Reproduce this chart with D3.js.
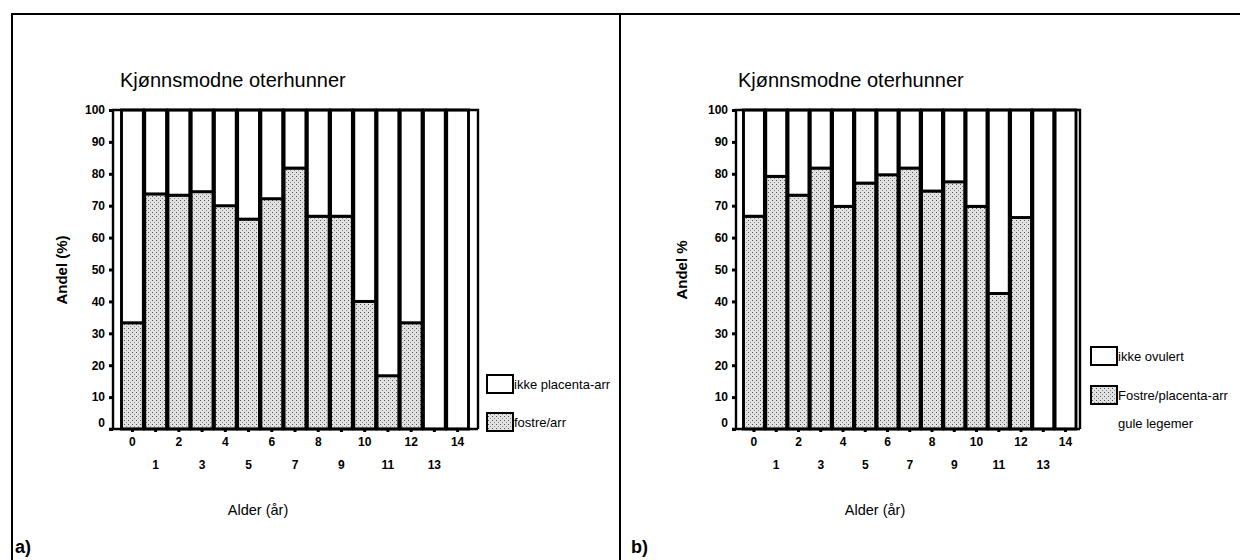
<!DOCTYPE html>
<html>
<head>
<meta charset="utf-8">
<script src="https://cdn.jsdelivr.net/npm/d3@7"></script>
<style>
body { margin: 0; background: #fff; }
svg { display: block; font-family: "Liberation Sans", Arial, sans-serif; }
</style>
</head>
<body>
<svg id="chart" width="1240" height="560"></svg>
<script>
var ages = [0, 1, 2, 3, 4, 5, 6, 7, 8, 9, 10, 11, 12, 13, 14];
var yTicks = [0, 10, 20, 30, 40, 50, 60, 70, 80, 90, 100];

// panel a: fostre/arr vs ikke placenta-arr
var fostreA = [33.3, 73.7, 73.3, 74.4, 70, 65.8, 72.2, 81.8, 66.7, 66.7, 40, 16.7, 33.3, 0, 0];
var ikkeA = [66.7, 26.3, 26.7, 25.6, 30, 34.2, 27.8, 18.2, 33.3, 33.3, 60, 83.3, 66.7, 100, 100];

// panel b: fostre/placenta-arr + gule legemer vs ikke ovulert
var fostreB = [66.7, 79.2, 73.3, 81.8, 69.8, 77.1, 79.7, 81.8, 74.6, 77.5, 69.8, 42.5, 66.3, 0, 0];
var ikkeB = [33.3, 20.8, 26.7, 18.2, 30.2, 22.9, 20.3, 18.2, 25.4, 22.5, 30.2, 57.5, 33.7, 100, 100];

var svg = d3.select('#chart');

// stipple fill like the scanned dot screen
var pat = svg.append('defs').append('pattern')
  .attr('id', 'stip')
  .attr('width', 4).attr('height', 4)
  .attr('patternUnits', 'userSpaceOnUse');
pat.append('rect').attr('width', 4).attr('height', 4).attr('fill', '#e2e2e2');
pat.append('rect').attr('x', 0).attr('y', 0).attr('width', 1).attr('height', 1).attr('fill', '#505050');
pat.append('rect').attr('x', 2).attr('y', 2).attr('width', 1).attr('height', 1).attr('fill', '#8a8a8a');

// outer frame + divider
svg.append('path')
  .attr('d', 'M12,560V14H1240M620,14V560')
  .attr('fill', 'none')
  .attr('stroke', '#000')
  .attr('stroke-width', 2);

var y = d3.scaleLinear().domain([0, 100]).range([429, 110]);

function panel(p) {
  var g = svg.append('g');
  var x = d3.scaleBand().domain(ages).range([p.b0, p.b1]).paddingInner(0.06);

  var rows = ages.map(function(a, i) { return { age: a, low: p.low[i], high: p.high[i] }; });
  var series = d3.stack().keys(['low', 'high'])(rows);

  g.selectAll('g.s')
    .data(series)
    .enter()
    .append('g')
    .attr('fill', function(d, i) { return i === 0 ? 'url(#stip)' : '#fff'; })
    .selectAll('rect')
    .data(function(d) { return d; })
    .enter()
    .append('rect')
    .attr('x', function(d) { return x(d.data.age); })
    .attr('width', x.bandwidth())
    .attr('y', function(d) { return y(d[1]); })
    .attr('height', function(d) { return y(d[0]) - y(d[1]); })
    .attr('stroke', '#000')
    .attr('stroke-width', 2.9);

  // plot box
  g.append('path')
    .attr('d', 'M' + p.x0 + ',' + y(0) + 'V' + y(100) + 'H' + p.x1 + 'V' + y(0) + 'M' + (p.x0 - 4) + ',' + y(0) + 'H' + p.x1)
    .attr('fill', 'none')
    .attr('stroke', '#000')
    .attr('stroke-width', 2.4);

  var ya = g.append('g')
    .attr('transform', 'translate(' + p.x0 + ',0)')
    .call(d3.axisLeft(y).tickValues(yTicks).tickSize(4).tickPadding(4));
  ya.select('.domain').remove();
  ya.selectAll('line').attr('stroke-width', 3);
  ya.selectAll('text').attr('font-size', 12).attr('font-weight', 'bold').attr('font-family', null)
    .attr('dy', function(d) { return d === 0 ? '-0.25em' : '0.32em'; });

  var xa = g.append('g')
    .attr('transform', 'translate(0,' + y(0) + ')')
    .call(d3.axisBottom(x).tickSize(3).tickPadding(6));
  xa.select('.domain').remove();
  xa.selectAll('line').attr('stroke-width', 3);
  xa.selectAll('text')
    .attr('font-size', 12)
    .attr('font-weight', 'bold')
    .attr('font-family', null)
    .attr('y', function(d) { return d % 2 === 0 ? 8 : 31; });

  g.append('text')
    .attr('x', p.titleX).attr('y', 87)
    .attr('font-size', 20)
    .text('Kjønnsmodne oterhunner');

  g.append('text')
    .attr('transform', 'translate(' + p.ylabX + ',270) rotate(-90)')
    .attr('text-anchor', 'middle')
    .attr('font-size', 15)
    .attr('font-weight', 'bold')
    .text(p.ylab);

  g.append('text')
    .attr('x', p.alderX).attr('y', 515)
    .attr('text-anchor', 'middle')
    .attr('font-size', 14.5)
    .text('Alder (år)');

  // legend
  var lg = g.append('g').attr('font-size', 13);
  p.legend.forEach(function(e) {
    lg.append('rect')
      .attr('x', p.legX).attr('y', e.y - 9)
      .attr('width', 26).attr('height', 18)
      .attr('fill', e.fill)
      .attr('stroke', '#000')
      .attr('stroke-width', 2);
    e.lines.forEach(function(t, k) {
      lg.append('text')
        .attr('x', p.legX + 27).attr('y', e.y + 5 + k * 28)
        .text(t);
    });
  });

  g.append('text')
    .attr('x', p.letterX).attr('y', 553)
    .attr('font-size', 18)
    .attr('font-weight', 'bold')
    .text(p.letter);
}

panel({
  x0: 113, x1: 478, b0: 121.5, b1: 468.5,
  low: fostreA, high: ikkeA,
  titleX: 120, ylab: 'Andel (%)', ylabX: 67,
  alderX: 258,
  legX: 487,
  legend: [
    { y: 384, fill: '#fff', lines: ['ikke placenta-arr'] },
    { y: 422, fill: 'url(#stip)', lines: ['fostre/arr'] }
  ],
  letter: 'a)', letterX: 15
});

panel({
  x0: 736, x1: 1080, b0: 743.5, b1: 1076,
  low: fostreB, high: ikkeB,
  titleX: 738, ylab: 'Andel %', ylabX: 687,
  alderX: 875,
  legX: 1091,
  legend: [
    { y: 356, fill: '#fff', lines: ['ikke ovulert'] },
    { y: 395, fill: 'url(#stip)', lines: ['Fostre/placenta-arr', 'gule legemer'] }
  ],
  letter: 'b)', letterX: 631
});
</script>
</body>
</html>
